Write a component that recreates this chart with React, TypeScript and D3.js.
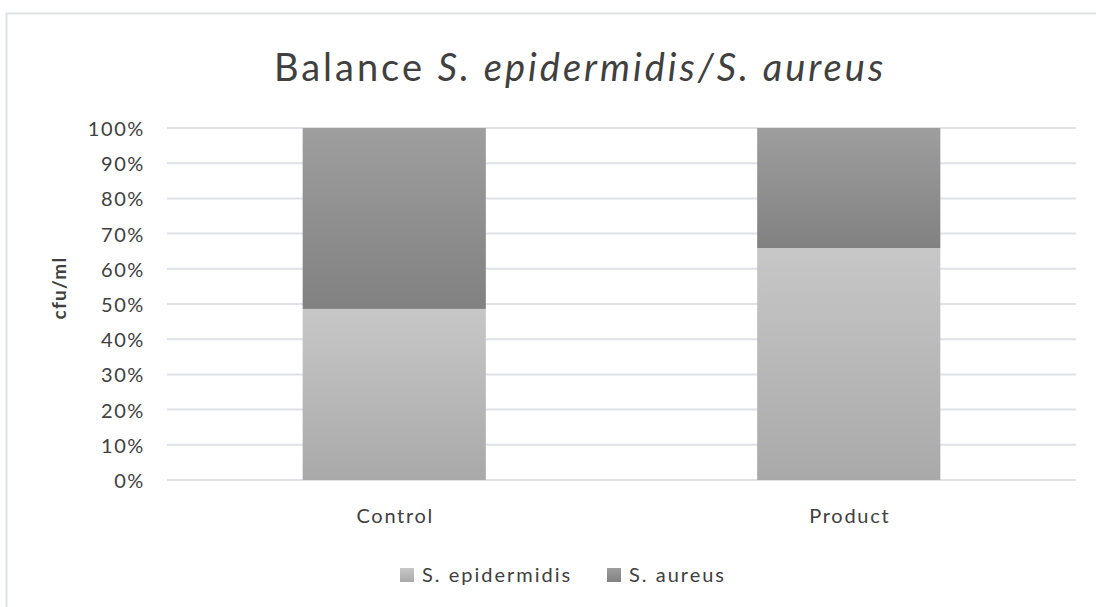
import { useEffect, useRef } from 'react'
import * as d3 from 'd3'

const WIDTH = 1096
const HEIGHT = 607
const MARGIN = { top: 128, right: 20, bottom: 127, left: 167 }

const categories = ['Control', 'Product']
const seriesNames = ['S. epidermidis', 'S. aureus']
const epidermidis = [48.6, 65.9]
const aureus = [51.4, 34.1]
const yTicks = [0, 10, 20, 30, 40, 50, 60, 70, 80, 90, 100]

const FONT = 'Lato, "Open Sans", sans-serif'
const GRID = '#dfe1e6'
const TEXT = '#404040'

export default function App() {
  const svgRef = useRef<SVGSVGElement | null>(null)

  useEffect(() => {
    if (!svgRef.current) return
    const svg = d3.select(svgRef.current)
    svg.selectAll('*').remove()

    const innerW = WIDTH - MARGIN.left - MARGIN.right
    const innerH = HEIGHT - MARGIN.top - MARGIN.bottom

    // gradients, one per series, stretched over each bar
    const defs = svg.append('defs')
    const grads = [
      { id: 'g-epi', top: '#c7c7c7', bottom: '#a9a9a9' },
      { id: 'g-aur', top: '#9e9e9e', bottom: '#818181' },
    ]
    grads.forEach(gr => {
      const lg = defs.append('linearGradient')
        .attr('id', gr.id)
        .attr('x1', 0).attr('y1', 0).attr('x2', 0).attr('y2', 1)
      lg.append('stop').attr('offset', '0%').attr('stop-color', gr.top)
      lg.append('stop').attr('offset', '100%').attr('stop-color', gr.bottom)
    })

    // chart frame
    svg.append('rect')
      .attr('x', 6.5).attr('y', 13.5)
      .attr('width', WIDTH + 20).attr('height', HEIGHT + 20)
      .attr('fill', '#fff')
      .attr('stroke', '#e0e2e8')
      .attr('stroke-width', 2)

    const g = svg.append('g').attr('transform', `translate(${MARGIN.left},${MARGIN.top})`)

    const x = d3.scaleBand().domain(categories).range([0, innerW]).padding(0)
    const y = d3.scaleLinear().domain([0, 100]).range([innerH, 0])

    // grid lines
    g.append('g')
      .selectAll('line')
      .data(yTicks)
      .enter()
      .append('line')
      .attr('x1', 0).attr('x2', innerW)
      .attr('y1', d => y(d)).attr('y2', d => y(d))
      .attr('stroke', GRID)
      .attr('stroke-width', 2)

    // y tick labels
    g.append('g')
      .selectAll('text')
      .data(yTicks)
      .enter()
      .append('text')
      .attr('x', -22)
      .attr('y', d => y(d) + 8)
      .attr('text-anchor', 'end')
      .attr('font-family', FONT)
      .attr('font-size', 20)
      .attr('letter-spacing', 1.6)
      .attr('fill', TEXT)
      .text(d => `${d}%`)

    // stacked bars
    const rows = categories.map((c, i) => ({ cat: c, 'S. epidermidis': epidermidis[i], 'S. aureus': aureus[i] }))
    const stack = d3.stack<any>().keys(seriesNames)(rows)
    const barW = x.bandwidth() * 0.403
    stack.forEach((layer, si) => {
      g.append('g')
        .selectAll('rect')
        .data(layer)
        .enter()
        .append('rect')
        .attr('x', d => (x(d.data.cat) as number) + (x.bandwidth() - barW) / 2)
        .attr('y', d => y(d[1]))
        .attr('width', barW)
        .attr('height', d => y(d[0]) - y(d[1]))
        .attr('fill', `url(#${grads[si].id})`)
    })

    // x labels
    g.append('g')
      .selectAll('text')
      .data(categories)
      .enter()
      .append('text')
      .attr('x', d => (x(d) as number) + x.bandwidth() / 2 + 1)
      .attr('y', innerH + 43)
      .attr('text-anchor', 'middle')
      .attr('font-family', FONT)
      .attr('font-size', 20)
      .attr('letter-spacing', 1.7)
      .attr('fill', TEXT)
      .text(d => d)

    // y axis title
    svg.append('text')
      .attr('transform', 'translate(66,288) rotate(-90)')
      .attr('text-anchor', 'middle')
      .attr('font-family', FONT)
      .attr('font-size', 19)
      .attr('font-weight', 'bold')
      .attr('letter-spacing', 1.2)
      .attr('fill', TEXT)
      .text('cfu/ml')

    // title
    const title = svg.append('text')
      .attr('x', 580)
      .attr('y', 81)
      .attr('text-anchor', 'middle')
      .attr('font-family', FONT)
      .attr('font-size', 38)
      .attr('letter-spacing', 3)
      .attr('fill', TEXT)
    title.append('tspan').text('Balance ')
    title.append('tspan').attr('font-style', 'italic').text('S. epidermidis/S. aureus')

    // legend
    const legend = svg.append('g').attr('transform', 'translate(400,575)')
    const offsets = [0, 207]
    seriesNames.forEach((name, i) => {
      const lg = legend.append('g').attr('transform', `translate(${offsets[i]},0)`)
      lg.append('rect')
        .attr('x', 0).attr('y', -7)
        .attr('width', 14).attr('height', 14)
        .attr('fill', `url(#${grads[i].id})`)
      lg.append('text')
        .attr('x', 22)
        .attr('y', 7)
        .attr('font-family', FONT)
        .attr('font-size', 20)
        .attr('letter-spacing', 2)
        .attr('fill', TEXT)
        .text(name)
    })
  }, [])

  return (
    <svg
      ref={svgRef}
      width={WIDTH}
      height={HEIGHT}
      style={{ position: 'absolute', left: 0, top: 0, display: 'block' }}
    />
  )
}
